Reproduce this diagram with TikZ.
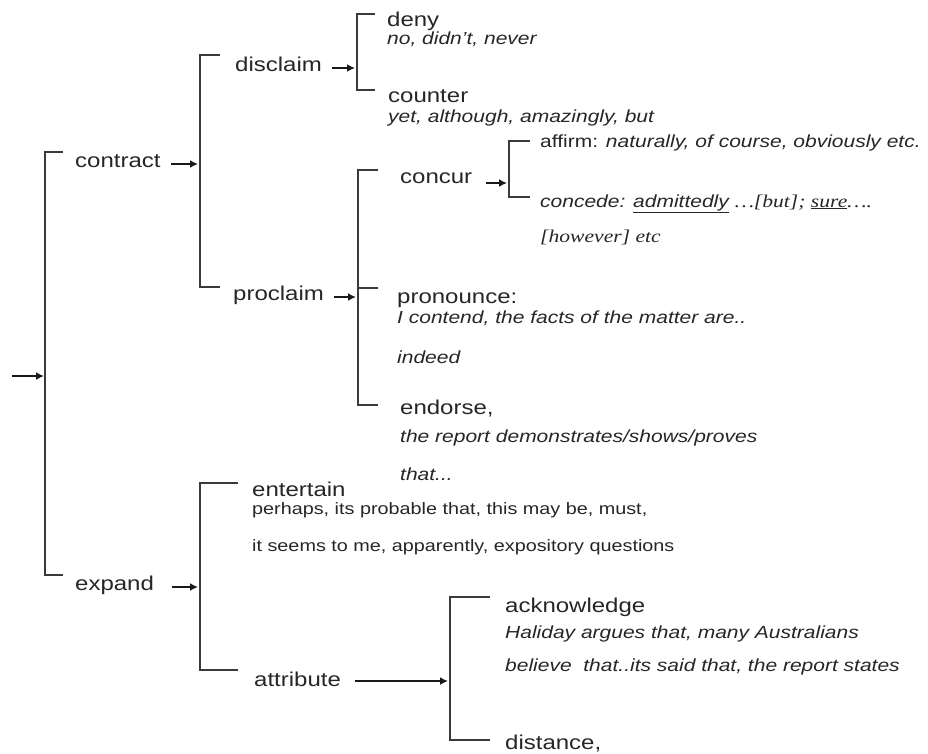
\documentclass[tikz,border=0pt]{standalone}
\usepackage{fontspec}
\setmainfont[FakeStretch=1.2]{Liberation Sans}
\newfontfamily\serifit[FakeStretch=1.2]{Liberation Serif}
\usetikzlibrary{arrows.meta}
\definecolor{textc}{HTML}{262626}
\definecolor{linec}{HTML}{3a3a3a}
\tikzset{
  head/.style={font=\fontsize{20}{24}\selectfont, anchor=base west, inner sep=0pt, text=textc},
  ex/.style={font=\fontsize{17.5}{21}\selectfont\itshape, anchor=base west, inner sep=0pt, text=textc},
  exup/.style={font=\fontsize{16.5}{20}\selectfont, anchor=base west, inner sep=0pt, text=textc},
  brk/.style={draw=linec, line width=1.8pt},
  arr/.style={draw=black!90, line width=2.6pt, -{Latex[length=8pt,width=8pt]}}
}
\begin{document}
\begin{tikzpicture}[x=1pt,y=-1pt]
\useasboundingbox (0,0) rectangle (928,753);
% ---------- text nodes ----------
\node[head] (contract) at (75,167) {contract};
\node[head] (disclaim) at (235,71) {disclaim};
\node[head] (deny) at (387,26) {deny};
\node[ex] (denyex) at (387,44) {no, didn't, never};
\node[head] (counter) at (388,102) {counter};
\node[ex] (counterex) at (388,122) {yet, although, amazingly, but};
\node[head] (proclaim) at (233,300) {proclaim};
\node[head] (concur) at (400,183) {concur};
\node[ex] (affirm) at (540,147) {\upshape affirm: \itshape naturally, of course, obviously etc.};
\node[ex] (concede) at (540,207) {concede: \underline{admittedly} {\serifit\fontsize{18}{21}\selectfont\itshape …[but]; \underline{sure}….}};
\node[ex] (concede2) at (540,242) {\serifit\fontsize{18}{21}\selectfont\itshape [however] etc};
\node[head] (pronounce) at (397,303) {pronounce:};
\node[ex] (pronex) at (397,323) {I contend, the facts of the matter are..};
\node[ex] (indeed) at (397,363) {indeed};
\node[head] (endorse) at (400,414) {endorse,};
\node[ex] (endex) at (400,442) {the report demonstrates/shows/proves};
\node[ex] (endex2) at (400,480) {that...};
\node[head] (entertain) at (252,496) {entertain};
\node[exup] (entex) at (252,514) {perhaps, its probable that, this may be, must,};
\node[exup] (entex2) at (252,551) {it seems to me, apparently, expository questions};
\node[head] (expand) at (75,590) {expand};
\node[head] (attribute) at (254,686) {attribute};
\node[head] (acknowledge) at (505,612) {acknowledge};
\node[ex] (ackex) at (505,638) {Haliday argues that, many Australians};
\node[ex] (ackex2) at (505,671) {believe\ \ that..its said that, the report states};
\node[head] (distance) at (505,749) {distance,};
% ---------- brackets ----------
% outer
\coordinate (oT) at (45,152); \coordinate (oB) at (45,575); \coordinate (oIn) at (44,376);
\draw[brk] (63,152) -- (oT) -- (oB) -- (63,575);
% contract
\coordinate (cT) at (200,55); \coordinate (cB) at (200,287); \coordinate (cIn) at (198,164);
\draw[brk] (220,55) -- (cT) -- (cB) -- (220,287);
% disclaim
\coordinate (dT) at (357,14); \coordinate (dB) at (357,90); \coordinate (dIn) at (355,68);
\draw[brk] (375,14) -- (dT) -- (dB) -- (375,90);
% proclaim
\coordinate (pT) at (358,170); \coordinate (pB) at (358,405); \coordinate (pIn) at (356,297);
\draw[brk] (378,170) -- (pT) -- (pB) -- (378,405);
\draw[brk] (pT |- 0,288) -- (378,288);
% concur
\coordinate (qT) at (509,141); \coordinate (qB) at (509,197); \coordinate (qIn) at (507,183);
\draw[brk] (530,141) -- (qT) -- (qB) -- (530,197);
% expand
\coordinate (eT) at (200,483); \coordinate (eB) at (200,670); \coordinate (eIn) at (198,587);
\draw[brk] (238,483) -- (eT) -- (eB) -- (238,670);
% attribute
\coordinate (aT) at (450,597); \coordinate (aB) at (450,740); \coordinate (aIn) at (448,681);
\draw[brk] (490,597) -- (aT) -- (aB) -- (490,740);
% ---------- arrows ----------
\coordinate (start) at (12,376);
\draw[arr] (start) -- (oIn);
\draw[arr] ([xshift=10pt]contract.east |- cIn) -- (cIn);
\draw[arr] ([xshift=10pt]disclaim.east |- dIn) -- (dIn);
\draw[arr] ([xshift=10pt]proclaim.east |- pIn) -- (pIn);
\draw[arr] ([xshift=14pt]concur.east |- qIn) -- (qIn);
\draw[arr] ([xshift=18pt]expand.east |- eIn) -- (eIn);
\draw[arr] ([xshift=14pt]attribute.east |- aIn) -- (aIn);
\end{tikzpicture}
\end{document}
